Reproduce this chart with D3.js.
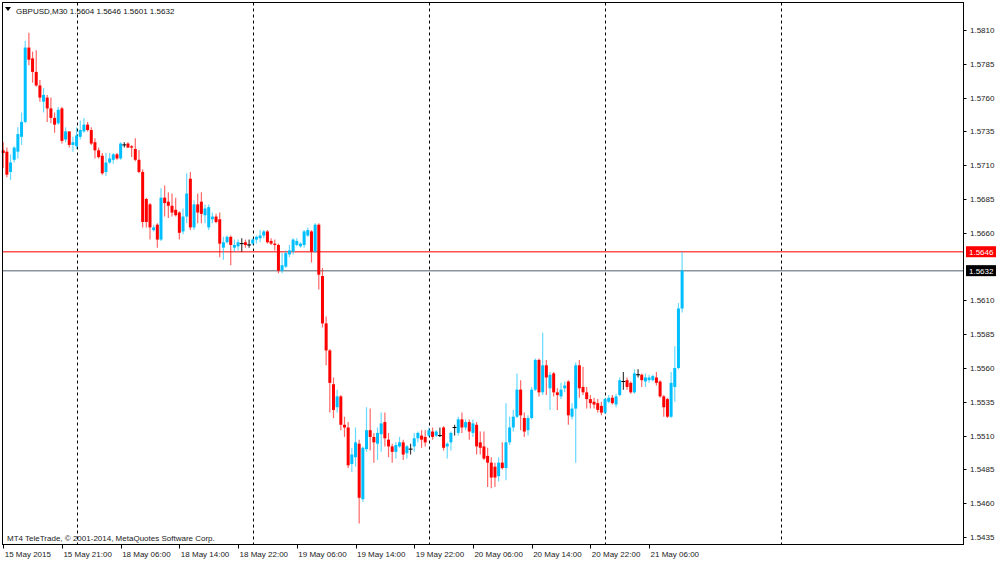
<!DOCTYPE html>
<html><head><meta charset="utf-8">
<script src="https://cdn.jsdelivr.net/npm/d3@7"></script>
<style>
body{margin:0;background:#fff}
svg{display:block}
text{font-family:"Liberation Sans",Arial,sans-serif}
</style>
</head><body>
<svg id="c" width="1000" height="561"></svg>
<script>
const symbol = "GBPUSD,M30";
const open  = [1.5721,1.5720,1.5705,1.5714,1.5720,1.5731,1.5742,1.5797,1.5789,1.5779,1.5769,1.5757,1.5760,1.5752,1.5745,1.5741,1.5752,1.5729,1.5735,1.5725,
1.5724,1.5731,1.5735,1.5740,1.5736,1.5727,1.5721,1.5717,1.5705,1.5712,1.5714,1.5718,1.5715,1.5725,1.5726,1.5724,1.5722,1.5714,1.5705,1.5685,
1.5681,1.5662,1.5666,1.5655,1.5686,1.5683,1.5680,1.5677,1.5675,1.5661,1.5672,1.5700,1.5664,1.5681,1.5683,1.5673,1.5664,1.5670,1.5672,1.5670,
1.5649,1.5653,1.5657,1.5649,1.5650,1.5652,1.5653,1.5651,1.5652,1.5655,1.5656,1.5658,1.5661,1.5654,1.5652,1.5651,1.5632,1.5635,1.5644,1.5646,
1.5651,1.5650,1.5651,1.5658,1.5661,1.5646,1.5666,1.5628,1.5593,1.5573,1.5548,1.5531,1.5539,1.5518,1.5516,1.5489,1.5494,1.5504,1.5463,1.5500,
1.5514,1.5509,1.5504,1.5511,1.5520,1.5507,1.5502,1.5498,1.5502,1.5505,1.5497,1.5500,1.5502,1.5508,1.5510,1.5509,1.5510,1.5513,1.5510,1.5510,
1.5516,1.5502,1.5505,1.5516,1.5512,1.5522,1.5516,1.5520,1.5512,1.5518,1.5505,1.5502,1.5495,1.5490,1.5487,1.5480,1.5490,1.5486,1.5505,1.5516,
1.5524,1.5544,1.5523,1.5514,1.5523,1.5544,1.5566,1.5542,1.5562,1.5545,1.5556,1.5542,1.5539,1.5545,1.5550,1.5524,1.5530,1.5562,1.5546,1.5542,
1.5537,1.5535,1.5534,1.5532,1.5527,1.5535,1.5538,1.5533,1.5540,1.5550,1.5551,1.5549,1.5542,1.5555,1.5555,1.5550,1.5551,1.5551,1.5553,1.5550,
1.5539,1.5537,1.5524,1.5546,1.5560,1.5604];
const high  = [1.5727,1.5723,1.5718,1.5724,1.5738,1.5749,1.5802,1.5808,1.5794,1.5795,1.5773,1.5767,1.5762,1.5760,1.5749,1.5753,1.5753,1.5738,1.5735,1.5731,
1.5738,1.5743,1.5745,1.5742,1.5738,1.5730,1.5723,1.5719,1.5719,1.5719,1.5719,1.5719,1.5727,1.5727,1.5727,1.5725,1.5730,1.5721,1.5707,1.5686,
1.5682,1.5666,1.5667,1.5693,1.5695,1.5690,1.5689,1.5686,1.5676,1.5678,1.5704,1.5705,1.5684,1.5689,1.5690,1.5681,1.5681,1.5675,1.5674,1.5675,
1.5657,1.5658,1.5658,1.5655,1.5655,1.5656,1.5655,1.5655,1.5656,1.5658,1.5662,1.5662,1.5662,1.5656,1.5655,1.5652,1.5645,1.5647,1.5651,1.5656,
1.5656,1.5653,1.5662,1.5664,1.5662,1.5667,1.5667,1.5634,1.5598,1.5574,1.5553,1.5544,1.5540,1.5524,1.5520,1.5501,1.5516,1.5507,1.5502,1.5531,
1.5530,1.5512,1.5516,1.5527,1.5527,1.5512,1.5504,1.5505,1.5509,1.5507,1.5503,1.5504,1.5512,1.5513,1.5514,1.5514,1.5516,1.5516,1.5514,1.5516,
1.5517,1.5505,1.5513,1.5518,1.5524,1.5527,1.5522,1.5522,1.5522,1.5520,1.5513,1.5513,1.5501,1.5494,1.5490,1.5494,1.5505,1.5534,1.5524,1.5529,
1.5556,1.5551,1.5527,1.5525,1.5546,1.5567,1.5567,1.5586,1.5566,1.5557,1.5557,1.5545,1.5549,1.5550,1.5551,1.5534,1.5564,1.5566,1.5561,1.5546,
1.5540,1.5538,1.5537,1.5535,1.5538,1.5540,1.5540,1.5541,1.5553,1.5557,1.5553,1.5550,1.5559,1.5559,1.5556,1.5556,1.5555,1.5555,1.5557,1.5551,
1.5540,1.5538,1.5557,1.5576,1.5608,1.5646];
const low   = [1.5708,1.5701,1.5699,1.5712,1.5715,1.5725,1.5741,1.5784,1.5771,1.5768,1.5757,1.5749,1.5742,1.5741,1.5734,1.5740,1.5726,1.5727,1.5723,1.5720,
1.5722,1.5729,1.5734,1.5735,1.5725,1.5715,1.5715,1.5703,1.5702,1.5711,1.5711,1.5714,1.5714,1.5723,1.5723,1.5716,1.5713,1.5704,1.5664,1.5664,
1.5655,1.5661,1.5649,1.5654,1.5672,1.5671,1.5672,1.5672,1.5655,1.5659,1.5667,1.5662,1.5662,1.5667,1.5667,1.5667,1.5662,1.5667,1.5667,1.5642,
1.5640,1.5652,1.5636,1.5646,1.5647,1.5646,1.5649,1.5649,1.5651,1.5652,1.5653,1.5656,1.5652,1.5651,1.5647,1.5630,1.5630,1.5634,1.5642,1.5644,
1.5650,1.5649,1.5649,1.5657,1.5638,1.5645,1.5618,1.5590,1.5562,1.5527,1.5523,1.5527,1.5514,1.5509,1.5486,1.5483,1.5487,1.5445,1.5461,1.5498,
1.5499,1.5490,1.5492,1.5498,1.5502,1.5494,1.5490,1.5493,1.5501,1.5492,1.5493,1.5496,1.5498,1.5505,1.5501,1.5502,1.5509,1.5507,1.5509,1.5509,
1.5499,1.5493,1.5499,1.5510,1.5510,1.5512,1.5514,1.5507,1.5509,1.5496,1.5496,1.5492,1.5472,1.5471,1.5472,1.5476,1.5485,1.5477,1.5503,1.5513,
1.5523,1.5514,1.5509,1.5510,1.5522,1.5543,1.5539,1.5540,1.5540,1.5529,1.5539,1.5529,1.5537,1.5542,1.5518,1.5522,1.5490,1.5538,1.5540,1.5530,
1.5530,1.5530,1.5527,1.5525,1.5526,1.5534,1.5533,1.5531,1.5539,1.5544,1.5544,1.5541,1.5541,1.5553,1.5546,1.5546,1.5549,1.5550,1.5547,1.5538,
1.5524,1.5523,1.5523,1.5535,1.5559,1.5601];
const close = [1.5719,1.5703,1.5712,1.5723,1.5733,1.5742,1.5797,1.5788,1.5779,1.5769,1.5760,1.5762,1.5752,1.5745,1.5740,1.5751,1.5728,1.5735,1.5725,1.5727,
1.5732,1.5736,1.5740,1.5736,1.5726,1.5721,1.5716,1.5704,1.5712,1.5715,1.5718,1.5715,1.5726,1.5725,1.5723,1.5723,1.5714,1.5705,1.5668,1.5668,
1.5664,1.5664,1.5655,1.5686,1.5682,1.5680,1.5675,1.5673,1.5660,1.5672,1.5689,1.5664,1.5681,1.5675,1.5674,1.5678,1.5679,1.5672,1.5668,1.5652,
1.5653,1.5657,1.5651,1.5651,1.5653,1.5652,1.5651,1.5651,1.5655,1.5657,1.5658,1.5661,1.5653,1.5652,1.5651,1.5632,1.5636,1.5645,1.5647,1.5655,
1.5654,1.5652,1.5661,1.5662,1.5646,1.5666,1.5629,1.5593,1.5573,1.5549,1.5529,1.5539,1.5518,1.5516,1.5488,1.5496,1.5505,1.5464,1.5501,1.5514,
1.5509,1.5505,1.5512,1.5519,1.5508,1.5502,1.5498,1.5503,1.5505,1.5496,1.5502,1.5500,1.5508,1.5512,1.5507,1.5505,1.5514,1.5509,1.5513,1.5510,
1.5501,1.5504,1.5512,1.5516,1.5522,1.5516,1.5520,1.5513,1.5519,1.5502,1.5501,1.5493,1.5490,1.5479,1.5479,1.5490,1.5486,1.5505,1.5516,1.5524,
1.5544,1.5525,1.5513,1.5523,1.5544,1.5566,1.5542,1.5562,1.5553,1.5555,1.5542,1.5540,1.5544,1.5547,1.5525,1.5530,1.5562,1.5545,1.5542,1.5537,
1.5534,1.5533,1.5529,1.5527,1.5537,1.5538,1.5534,1.5539,1.5551,1.5550,1.5546,1.5542,1.5556,1.5555,1.5551,1.5553,1.5553,1.5554,1.5549,1.5539,
1.5531,1.5524,1.5549,1.5560,1.5604,1.5632];

const dayStarts = [20, 68, 116, 164, 212];
const timeLabelIdx = [0, 16, 32, 48, 64, 80, 96, 112, 128, 144, 160, 176];
const timeLabels = ["15 May 2015","15 May 21:00","18 May 06:00","18 May 14:00","18 May 22:00","19 May 06:00",
  "19 May 14:00","19 May 22:00","20 May 06:00","20 May 14:00","20 May 22:00","21 May 06:00"];
const priceTicks = [1.5810,1.5785,1.5760,1.5735,1.5710,1.5685,1.5660,1.5610,1.5585,1.5560,1.5535,1.5510,1.5485,1.5460,1.5435];
const askPrice = 1.5646;
const bidPrice = 1.5632;
const copyright = "MT4 TeleTrade, \u00a9 2001-2014, MetaQuotes Software Corp.";

const svg = d3.select("#c");
const L = 2.5, T = 2.5, R = 963.5, B = 544.5;
const FS = 8;
const x = d3.scaleLinear().domain([0, 212]).range([3.2, 781.2]);
const y = d3.scaleLinear().domain([1.5435, 1.5810]).range([537, 30]);
const fmt = d3.format(".4f");

const data = open.map((o, i) => ({i, o, h: high[i], l: low[i], c: close[i]}));

const plot = svg.append("g");
// period separators
plot.selectAll("line.sep").data(dayStarts).join("line")
  .attr("x1", d => Math.round(x(d)) + 0.5).attr("x2", d => Math.round(x(d)) + 0.5)
  .attr("y1", T).attr("y2", B)
  .attr("stroke", "#000").attr("stroke-width", 1).attr("stroke-dasharray", "3,3");

// ask / bid lines
plot.append("line").attr("x1", L).attr("x2", R).attr("y1", y(askPrice)).attr("y2", y(askPrice))
  .attr("stroke", "#ff5050").attr("stroke-width", 1.5);
plot.append("line").attr("x1", L).attr("x2", R).attr("y1", y(bidPrice)).attr("y2", y(bidPrice))
  .attr("stroke", "#8a939e").attr("stroke-width", 1.5);

const col = d => d.c > d.o ? "#00bfff" : (d.c < d.o ? "#ff0000" : "#000");

const cg = plot.selectAll("g.cd").data(data).join("g");
cg.append("line")
  .attr("x1", d => x(d.i)).attr("x2", d => x(d.i))
  .attr("y1", d => y(d.h)).attr("y2", d => y(d.l))
  .attr("stroke", col).attr("stroke-width", 1.2)
  .attr("stroke-opacity", d => d.c === d.o ? 0.75 : 0.6);
cg.filter(d => d.c !== d.o).append("rect")
  .attr("x", d => x(d.i) - 1.5).attr("width", 3)
  .attr("y", d => y(Math.max(d.o, d.c)))
  .attr("height", d => Math.max(1, y(Math.min(d.o, d.c)) - y(Math.max(d.o, d.c))))
  .attr("fill", col);
cg.filter(d => d.c === d.o).append("line")
  .attr("x1", d => x(d.i) - 2).attr("x2", d => x(d.i) + 2)
  .attr("y1", d => y(d.o)).attr("y2", d => y(d.o))
  .attr("stroke", "#000").attr("stroke-width", 1);

// frame
svg.append("rect").attr("x", L).attr("y", T).attr("width", R - L).attr("height", B - T)
  .attr("fill", "none").attr("stroke", "#000").attr("stroke-width", 1);

// right price axis
const ya = svg.append("g");
ya.selectAll("line").data(priceTicks).join("line")
  .attr("x1", R).attr("x2", R + 3)
  .attr("y1", d => Math.round(y(d)) + 0.5).attr("y2", d => Math.round(y(d)) + 0.5)
  .attr("stroke", "#000");
ya.selectAll("text").data(priceTicks).join("text")
  .attr("x", 970).attr("y", d => y(d) + 3)
  .attr("font-size", FS).attr("fill", "#222")
  .text(d => fmt(d));

// ask / bid labels
[[askPrice, "#ff0000"], [bidPrice, "#000"]].forEach(([p, c]) => {
  svg.append("rect").attr("x", 966).attr("y", y(p) - 5.5).attr("width", 30).attr("height", 11).attr("fill", c);
  svg.append("text").attr("x", 969).attr("y", y(p) + 3).attr("font-size", FS).attr("fill", "#fff").text(fmt(p));
});

// bottom time axis
const xa = svg.append("g");
xa.selectAll("line").data(timeLabelIdx).join("line")
  .attr("x1", d => Math.round(x(d)) + 0.5).attr("x2", d => Math.round(x(d)) + 0.5)
  .attr("y1", B).attr("y2", B + 4).attr("stroke", "#000");
xa.selectAll("text").data(timeLabelIdx).join("text")
  .attr("x", d => x(d) + 1.5).attr("y", 557)
  .attr("font-size", FS).attr("fill", "#222")
  .text((d, k) => timeLabels[k]);

// header
svg.append("path").attr("d", "M5,7 L11,7 L8,11 Z").attr("fill", "#000");
svg.append("text").attr("x", 16).attr("y", 13.5).attr("font-size", FS).attr("fill", "#111")
  .text(symbol + " " + [open[185], high[185], low[185], close[185]].map(fmt).join(" "));

// copyright
svg.append("text").attr("x", 7).attr("y", 541).attr("font-size", FS).attr("fill", "#222").text(copyright);
</script>
</body></html>
